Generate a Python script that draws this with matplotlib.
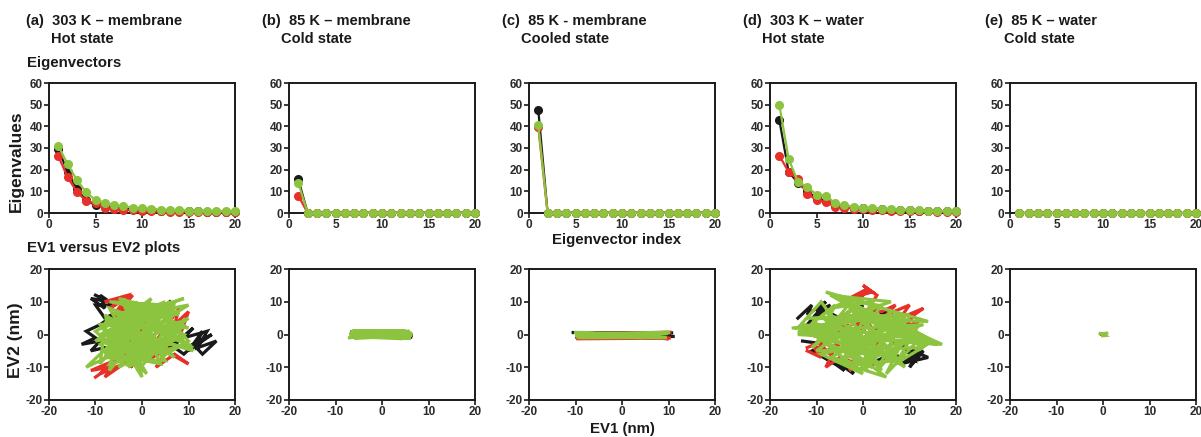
import matplotlib
matplotlib.use("Agg")
import matplotlib.pyplot as plt

# ---------------- data ----------------
ev_index = list(range(1, 21))

# eigenvalues per panel: (black, red, green)
a_eig_black = [29.5, 19, 11, 6, 3.5, 3, 2.5, 2, 1.7, 1.5, 1.3, 1.1, 1.0, 0.9, 0.8, 0.7, 0.6, 0.6, 0.5, 0.5]
a_eig_red = [26.3, 16.5, 9.8, 5.5, 4.5, 2.5, 2.0, 1.5, 1.2, 1.0, 0.8, 0.7, 0.6, 0.5, 0.5, 0.4, 0.4, 0.3, 0.3, 0.3]
a_eig_green = [31, 22.5, 15.2, 9.5, 6, 4.8, 3.6, 3.2, 2.5, 2.2, 2.0, 1.5, 1.3, 1.2, 1.1, 1.0, 0.9, 0.8, 0.8, 0.7]

b_eig_black = [15.5] + [0.1] * 19
b_eig_red = [8] + [0.1] * 19
b_eig_green = [14] + [0.1] * 19

c_eig_black = [47.5] + [0.1] * 19
c_eig_red = [39.5] + [0.1] * 19
c_eig_green = [40.5] + [0.1] * 19

d_eig_black = [43, 19, 14, 10, 7, 5.5, 3.5, 3, 2.5, 2.2, 2, 1.8, 1.5, 1.3, 1.2, 1.1, 1.0, 0.9, 0.8, 0.7]
d_eig_red = [26.5, 19, 15.5, 9, 6, 5, 3, 2.5, 2, 1.8, 1.5, 1.3, 1.1, 1.0, 0.9, 0.8, 0.7, 0.6, 0.5, 0.5]
d_eig_green = [50, 25, 14.5, 12, 8.5, 8, 4.5, 3.5, 3, 2.5, 2.2, 2, 1.8, 1.5, 1.4, 1.2, 1.1, 1.0, 0.9, 0.8]

e_eig_black = [0.2] * 20
e_eig_red = [0.2] * 20
e_eig_green = [0.2] * 20

# EV1 / EV2 projections per panel: (black, red, green)
a_black_x = [-10, -7, -11, -8, -9, -6, -10, -8, -5, -9, -12, -10, -13, -9, -11, -8, -4, -2, -6, 0, 3, -1, 5, 2, 8, 6, 11, 9, 14, 12, 16, 13, 11, 15, 10, 13, 12, 9, 6, 3, -2, -6, -3, 2, 6]
a_black_y = [12, 10, 11, 8, 12, 9, 9, 5, 7, 3, 1, -1, -3, -2, -5, -4, -6, -4, -5, -7, -5, -6, -4, -6, -2, -4, 2, -1, 1, -4, -2, -6, -3, 0, -5, 1, -2, -6, -3, -4, -5, -3, 2, 4, 10]
a_red_x = [-10, -7, -11, -6, -9, -4, -8, -5, -2, -6, -3, 0, -4, 2, -1, 3, 6, 4, 8, 7, 10, 8, 9, 5, 10, 7, 3, 6, 1, 4, -2, 0, -5, -3, -1, -6, -2, -7, -4, -8, -3, -6, -1, -5, -3, -7, -1, -4, -2]
a_red_y = [-13, -10, -11, -8, -12, -9, -13, -7, -10, -5, -3, -7, -1, -4, 2, -2, 4, 0, 8, 3, 7, -1, -3, -5, -9, -6, -10, -4, -8, -3, -6, 1, -4, -7, 0, 5, 12, 8, 11, 10, 12, 6, 9, 3, 1, -2, -5, -8, -3]
a_green_x = [-9, 5, -7, 8, -5, 10, -8, 3, -6, 11, -9, 6, -3, 9, -10, 2, -7, 10, -4, 7, -8, 0, -5, 11, -2, 4, -6, 8, -9, 1, -7, 9, -3, 10, -8, 5, -4, 0, -6, 3, -2, 6, -5, 2, 0, -3, 4, -8, 7, -1, 3, -6, 9, -2,
             -4, 1, -6, 2, -8, -1, -9, 3, -5, 0, 6, 2, 8, 4, 10, 5, 7, 1, 4, -2, 1, -5, -1, -8, 0, -12, -3, -7, -6, -9, -8, -4, -10, 0, -7, 5, -4, 9, -1, 10, 2, 7, 5, 9, 3]
a_green_y = [-3, 9, 10, 6, 11, 2, 4, -5, 7, -4, 0, 10, -8, 3, -2, 11, -9, -3, 9, -7, 6, -11, 2, -5, 10, -9, -6, 7, 3, -12, 8, 0, -10, 5, -7, -8, 11, -13, 1, 9, -6, -2, -10, 4, 8, -9, -4, 5, 1, -11, 6, -5, -1, 3,
             4, 8, 1, -1, -6, 5, 2, -4, 6, 9, 5, -6, 4, -7, -2, 6, 8, -3, 2, -8, -1, 4, 10, -3, 6, -10, -4, -11, -3, -9, 2, -7, 1, 9, -1, 10, 5, 11, 6, 9, 2, 10, -3, 3, -6]

b_black_x = [-6.5, 6, -6, 6.5, -6.3, 5.8, -6, 6.3]
b_black_y = [0.8, -0.5, -0.8, -0.8, 0.3, 0.9, -0.3, -0.2]
b_red_x = [-5.5, 5, -5, 5.5]
b_red_y = [0.5, -0.5, -0.6, 0.6]
b_green_x = [-7, 6, -6.5, 5.5, -7, 6.5, -6, 5, -6.8, 6.2, -5.5, 6.5, -6.9, 4.5, -6.2, 6]
b_green_y = [-1, 1, 1.1, -1.2, 0.2, -0.3, -1.2, 1.2, 0.8, -1.1, 0.4, 0.1, -0.6, -1.3, 1.2, 0.5]

c_black_x = [-10.5, 11, -10, 10.5, -9.5, 11]
c_black_y = [0.6, 0.5, -0.8, 0.2, -1, -0.6]
c_red_x = [-9.5, 10.5, -9, 10, -9.5, 10.3]
c_red_y = [-1.3, -1.1, 0.6, -1.3, 0.2, 0.7]
c_green_x = [-10, 9.5, -9.5, 10, -10, 9.8, -9.7, 9.6, -10, 10]
c_green_y = [0.6, -0.9, -1, 0.7, -0.2, 0.3, 0.5, -1, -0.7, 0.5]

d_black_x = [-14, -11, -12, -8, -10, -7, -12, -9, -5, -8, -3, 0, -2, 3, 1, 5, 3, 8, 6, 11, 9, 13, 10, 12, 8, 14, 9, 11, 6, 3, -1, -4, -2, -6, -4, -9, -6, -11, -8, -13]
d_black_y = [5, 9, 6, 10, 7, 9, 3, 8, 5, 2, 7, 9, 6, 8, 4, 7, 2, 3, -2, -5, -8, -5, -10, -6, -9, -7, -4, -8, -6, -8, -11, -9, -12, -8, -11, -6, -9, -5, -3, -2]
d_red_x = [-12, -9, -11, -7, -10, -5, -8, -3, -6, 0, 2, -2, 1, -1, 3, 0, 2, -3, 1, -2, 4, 7, 5, 10, 8, 13, 11, 9, 12, 6, 3, 5, 0, 2, -3, -1, -5, -8, -6, -10, -7, -12]
d_red_y = [-5, -7, -3, -6, -2, -4, 1, 3, 0, 5, 2, 4, 0, 3, 12, 15, 13, 11, 14, 8, 7, 9, 6, 9, 5, 8, 6, 2, 4, 0, -3, -8, -10, -6, -11, -9, -7, -10, -4, -6, -1, -4]
d_green_x = [-15, 10, -12, 14, -8, 17, -14, 6, -7, 13, -10, 3, -5, 15, -13, 0, -9, 11, -4, 8, -11, 5, -6, 12, -2, 9, -8, 4, -3, 16, -12, 2, -7, 10, -1, 7, -9, 1, -5, 13, -14, 3,
             -13, -6, -10, -2, -7, 2, -4, 6, 0, 9, 3, 12, 7, 15, 10, 5, 13, 1, 8, -3, 4, -7, 0, -11, -5, -14, -9, -1, -6, 3]
d_green_y = [2, 6, 5, 4, 13, -3, 0, 10, 12, -4, -5, 9, 11, -2, 3, -12, -6, 1, 10, -9, 4, -13, -8, -1, 8, -10, 7, -11, 6, -3, 1, -10, -7, 5, -9, -8, 6, -11, -4, 3, 1, -6,
             1, 9, -3, 11, 8, 10, -7, 7, -10, 6, -11, 3, -9, -2, 2, -12, 0, -8, 6, -5, 9, 2, 11, -4, 3, 2, 10, -6, 1, -9]

e_black_x = [-0.3, 0.3]
e_black_y = [0.1, -0.1]
e_red_x = [-0.5, 0.2, -0.3]
e_red_y = [0.2, -0.3, 0.1]
e_green_x = [-0.6, 0.7, -0.4, 0.5, 0.0, 0.8]
e_green_y = [0.3, 0.1, -0.4, -0.3, 0.2, 0.4]

titles = [
    ("(a)  303 K \u2013 membrane", "Hot state"),
    ("(b)  85 K \u2013 membrane", "Cold state"),
    ("(c)  85 K - membrane", "Cooled state"),
    ("(d)  303 K \u2013 water", "Hot state"),
    ("(e)  85 K \u2013 water", "Cold state"),
]

eig_sets = [
    (a_eig_black, a_eig_red, a_eig_green),
    (b_eig_black, b_eig_red, b_eig_green),
    (c_eig_black, c_eig_red, c_eig_green),
    (d_eig_black, d_eig_red, d_eig_green),
    (e_eig_black, e_eig_red, e_eig_green),
]
proj_sets = [
    ((a_black_x, a_black_y), (a_red_x, a_red_y), (a_green_x, a_green_y)),
    ((b_black_x, b_black_y), (b_red_x, b_red_y), (b_green_x, b_green_y)),
    ((c_black_x, c_black_y), (c_red_x, c_red_y), (c_green_x, c_green_y)),
    ((d_black_x, d_black_y), (d_red_x, d_red_y), (d_green_x, d_green_y)),
    ((e_black_x, e_black_y), (e_red_x, e_red_y), (e_green_x, e_green_y)),
]

colors = ["#1a1a1a", "#e8302a", "#8cc43f"]

# ---------------- figure ----------------
W, H = 1201, 437
plt.rcParams['font.family'] = ['Liberation Sans', 'DejaVu Sans']
plt.rcParams['axes.unicode_minus'] = False
fig = plt.figure(figsize=(W / 100, H / 100), dpi=100)

lefts = [49, 289, 529, 770, 1010]
aw = 186
top_row = (83, 213)
bot_row = (269, 400)


def px_axes(left, top, bottom):
    return fig.add_axes([left / W, 1 - bottom / H, aw / W, (bottom - top) / H])


def style(ax):
    for s in ax.spines.values():
        s.set_linewidth(1.4)
        s.set_color("#1a1a1a")
    ax.tick_params(direction="out", length=3.5, width=1.2, pad=1,
                   labelsize=8.5, labelcolor="#2a2a2a", color="#1a1a1a")
    for lab in ax.get_xticklabels() + ax.get_yticklabels():
        lab.set_fontweight("bold")


for i, left in enumerate(lefts):
    # eigenvalue spectrum
    ax = px_axes(left, *top_row)
    for vals, c in zip(eig_sets[i], colors):
        ax.plot(ev_index, vals, "-o", color=c, lw=1.6, ms=5.5, clip_on=False, zorder=3)
    ax.set_xlim(0, 20)
    ax.set_ylim(0, 60)
    ax.set_xticks([0, 5, 10, 15, 20])
    ax.set_yticks(range(0, 61, 10))
    style(ax)

    # EV1 vs EV2 projection
    bx = px_axes(left, *bot_row)
    for (xs, ys), c in zip(proj_sets[i], colors):
        bx.plot(xs, ys, "-", color=c, lw=2.3, solid_joinstyle="miter")
    bx.set_xlim(-20, 20)
    bx.set_ylim(-20, 20)
    bx.set_xticks([-20, -10, 0, 10, 20])
    bx.set_yticks([-20, -10, 0, 10, 20])
    style(bx)

# panel headings
head_x = [26, 262, 502, 743, 985]
sub_x = [51, 281, 521, 762, 1004]
for i, (l1, l2) in enumerate(titles):
    fig.text(head_x[i] / W, 1 - 21 / H, l1, fontsize=10.5, fontweight="bold",
             va="center", ha="left", color="#1a1a1a")
    fig.text(sub_x[i] / W, 1 - 39 / H, l2, fontsize=10.5, fontweight="bold",
             va="center", ha="left", color="#1a1a1a")

fig.text(27 / W, 1 - 63 / H, "Eigenvectors", fontsize=10.8, fontweight="bold",
         va="center", ha="left", color="#1a1a1a")
fig.text(27 / W, 1 - 248 / H, "EV1 versus EV2 plots", fontsize=10.8, fontweight="bold",
         va="center", ha="left", color="#1a1a1a")
fig.text(16 / W, 1 - 161 / H, "Eigenvalues", fontsize=12.5, fontweight="bold",
         rotation=90, va="center", ha="center", color="#1a1a1a")
fig.text(16 / W, 1 - 340 / H, "EV2 (nm)", fontsize=12.5, fontweight="bold",
         rotation=90, va="center", ha="center", color="#1a1a1a")
fig.text(617 / W, 1 - 240 / H, "Eigenvector index", fontsize=10.8, fontweight="bold",
         va="center", ha="center", color="#1a1a1a")
fig.text(622 / W, 1 - 429 / H, "EV1 (nm)", fontsize=10.8, fontweight="bold",
         va="center", ha="center", color="#1a1a1a")

fig.savefig("out.png", dpi=100)
